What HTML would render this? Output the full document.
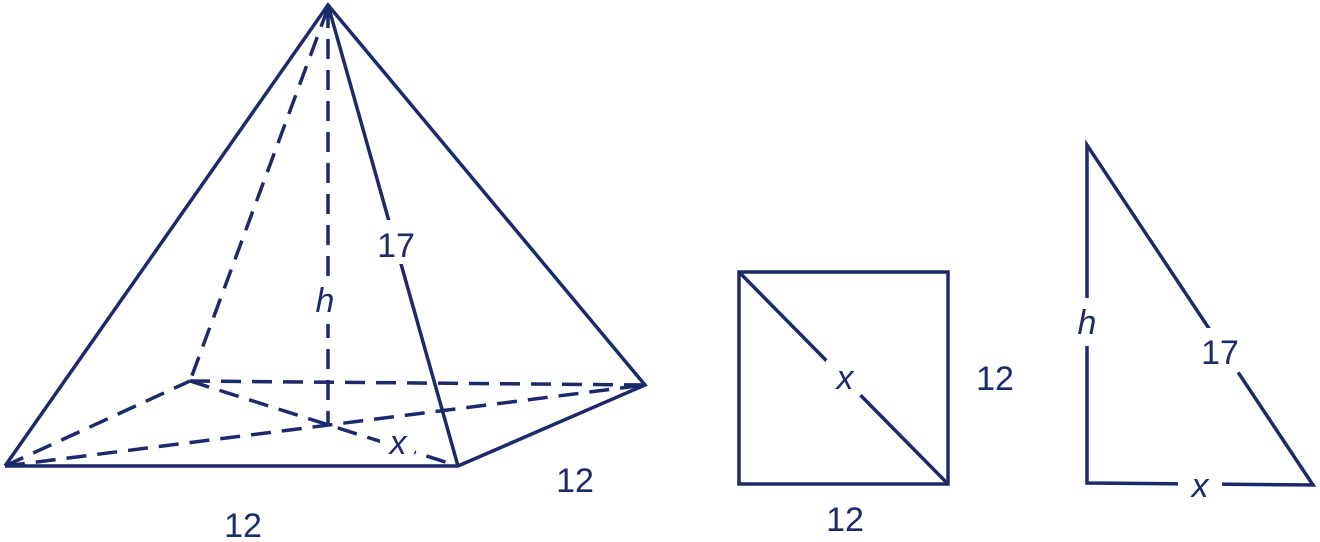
<!DOCTYPE html>
<html><head><style>
html,body{margin:0;padding:0;background:#fff;width:1320px;height:542px;overflow:hidden}
text{font-family:"Liberation Sans",sans-serif;font-size:34px;fill:#1b2a6b}
</style></head><body>
<svg width="1320" height="542" viewBox="0 0 1320 542" xmlns="http://www.w3.org/2000/svg">
<g stroke="#1b2a6b" stroke-width="3.5" fill="none" stroke-linejoin="miter">
<g stroke-dasharray="20,11">
<line x1="328" y1="8" x2="190" y2="381"/>
<line x1="328" y1="8" x2="328" y2="425"/>
<line x1="190" y1="381" x2="645" y2="385"/>
<line x1="5" y1="466" x2="645" y2="385"/>
<line x1="5" y1="466" x2="190" y2="381"/>
<line x1="190" y1="381" x2="458" y2="466"/>
</g>
<polyline points="5,466 328,5 645,385 458,466 5,466"/>
<line x1="328" y1="5" x2="458" y2="466"/>
<rect x="739" y="272" width="209" height="212"/>
<line x1="739" y1="272" x2="948" y2="484"/>
<polygon points="1087,145 1087,483 1313,485"/>
</g>
<g fill="#fff">
<rect x="372" y="220" width="48" height="44" rx="14"/>
<rect x="306" y="276" width="40" height="48" rx="14"/>
<rect x="380" y="420" width="36" height="40" rx="14"/>
<rect x="824" y="354" width="40" height="46" rx="14"/>
<rect x="1066" y="298" width="42" height="48" rx="14"/>
<rect x="1194" y="328" width="52" height="46" rx="14"/>
<rect x="1178" y="466" width="44" height="38" rx="14"/>
</g>
<text x="396" y="257" text-anchor="middle">17</text>
<text x="325" y="312" text-anchor="middle" font-style="italic">h</text>
<text x="398" y="454" text-anchor="middle" font-style="italic">x</text>
<text x="243" y="537" text-anchor="middle">12</text>
<text x="575" y="492" text-anchor="middle">12</text>
<text x="845" y="389" text-anchor="middle" font-style="italic">x</text>
<text x="995" y="390" text-anchor="middle">12</text>
<text x="845" y="531" text-anchor="middle">12</text>
<text x="1087" y="334" text-anchor="middle" font-style="italic">h</text>
<text x="1220" y="364" text-anchor="middle">17</text>
<text x="1200" y="497" text-anchor="middle" font-style="italic">x</text>
</svg>
</body></html>
